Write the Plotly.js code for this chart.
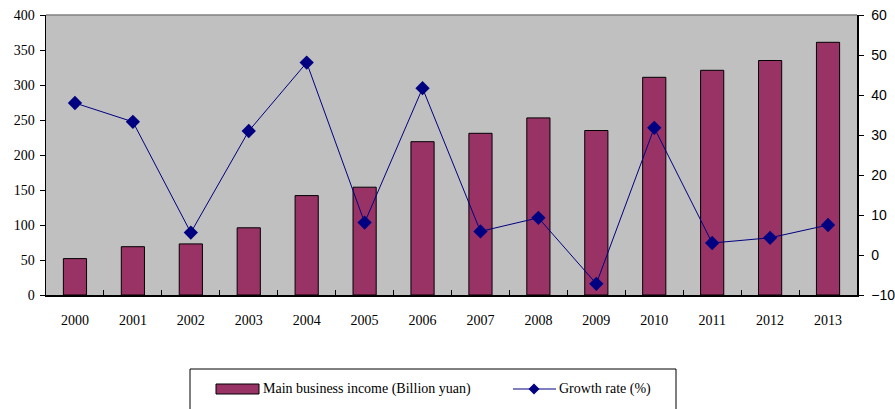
<!DOCTYPE html>
<html>
<head>
<meta charset="utf-8">
<script src="https://cdn.plot.ly/plotly-3.0.1.min.js"></script>
<style>html,body{margin:0;padding:0;background:#fff;}#chart{width:895px;height:409px;}</style>
</head>
<body>
<div id="chart"></div>
<script>
const years = ['2000','2001','2002','2003','2004','2005','2006','2007','2008','2009','2010','2011','2012','2013'];
const income = [52, 69, 73, 96, 142, 154, 219, 231, 253, 235, 311, 321, 335, 361];
const growth = [38, 33.3, 5.6, 31, 48.1, 8.1, 41.7, 5.9, 9.3, -7.2, 31.8, 3, 4.3, 7.5];
const incomeName = 'Main business income (Billion yuan)';
const growthName = 'Growth rate (%)';

const W = 895, H = 409, L = 46, R = 857, T = 15, B = 295;
const px = x => (x - L) / (R - L);
const py = y => (B - y) / (B - T);

const navy = '#000080';
const barColor = '#993366';

const traces = [
  {type: 'bar', x: years, y: income, name: incomeName, yaxis: 'y',
   marker: {color: barColor, line: {color: '#000', width: 1}}, showlegend: false},
  {type: 'scatter', mode: 'lines+markers', x: years, y: growth, name: growthName, yaxis: 'y2',
   line: {color: navy, width: 1}, marker: {symbol: 'diamond', size: 11, color: navy},
   showlegend: false}
];

const serif = {family: 'Liberation Serif, Times New Roman, serif', size: 14, color: '#000'};
const sans = {family: 'Liberation Sans, Arial, sans-serif', size: 14, color: '#000'};

const layout = {
  width: W, height: H,
  margin: {l: L, r: W - R, t: T, b: H - B, pad: 0},
  paper_bgcolor: '#fff', plot_bgcolor: '#C0C0C0',
  bargap: 0.6,
  showlegend: false,
  hovermode: false,
  xaxis: {type: 'category', range: [-0.5, years.length - 0.5], autorange: false,
          showline: true, linecolor: '#000', linewidth: 1.5,
          ticks: 'inside', tickson: 'boundaries', ticklen: 5, tickcolor: '#000',
          tickfont: serif, ticklabelstandoff: 12, showgrid: false, zeroline: false},
  yaxis: {range: [0, 400], dtick: 50, showline: true, linecolor: '#000', linewidth: 1.5,
          ticks: 'outside', ticklen: 5, tickcolor: '#000', tickfont: serif,
          showgrid: false, zeroline: false, ticklabelstandoff: 2},
  yaxis2: {range: [-10, 60], dtick: 10, overlaying: 'y', side: 'right', showline: true,
           linecolor: '#000', linewidth: 1.5, ticks: 'outside', ticklen: 5, tickcolor: '#000',
           tickfont: sans, showgrid: false, zeroline: false, ticklabelstandoff: 5},
  shapes: [
    {type: 'line', xref: 'paper', yref: 'paper', x0: 0, x1: 1, y0: 1, y1: 1,
     line: {color: '#808080', width: 1.5}},
    {type: 'rect', xref: 'paper', yref: 'paper', x0: px(190), x1: px(676), y0: py(420), y1: py(369),
     line: {color: '#000', width: 1}, fillcolor: 'rgba(0,0,0,0)'},
    {type: 'rect', xref: 'paper', yref: 'paper', x0: px(216), x1: px(259), y0: py(394), y1: py(384),
     line: {color: '#000', width: 1}, fillcolor: barColor},
    {type: 'line', xref: 'paper', yref: 'paper', x0: px(513), x1: px(556), y0: py(389), y1: py(389),
     line: {color: navy, width: 1}},
    {type: 'path', xref: 'paper', yref: 'paper',
     path: 'M' + px(534) + ',' + py(383.5) + ' L' + px(539.5) + ',' + py(389) + ' L' + px(534) + ',' + py(394.5) + ' L' + px(528.5) + ',' + py(389) + ' Z',
     line: {color: navy, width: 0}, fillcolor: navy}
  ],
  annotations: [
    {xref: 'paper', yref: 'paper', x: px(261), y: py(389), xanchor: 'left', yanchor: 'middle',
     text: incomeName, showarrow: false, font: serif},
    {xref: 'paper', yref: 'paper', x: px(557), y: py(389), xanchor: 'left', yanchor: 'middle',
     text: growthName, showarrow: false, font: serif}
  ]
};

Plotly.newPlot('chart', traces, layout, {displayModeBar: false, staticPlot: true});
</script>
</body>
</html>
